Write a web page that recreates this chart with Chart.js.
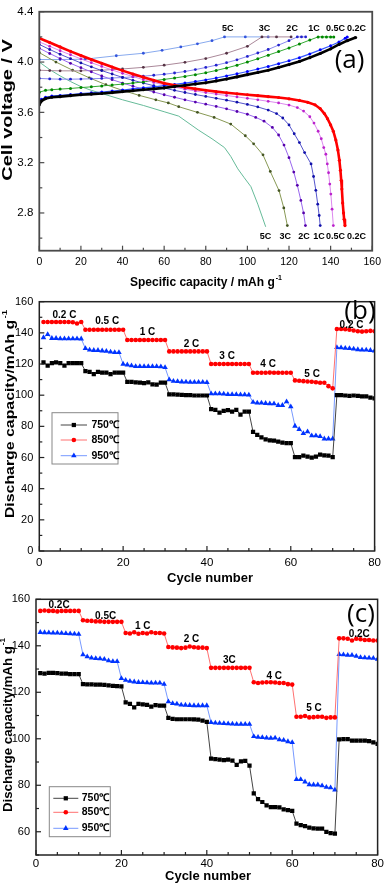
<!DOCTYPE html>
<html><head><meta charset="utf-8">
<script src="https://cdn.jsdelivr.net/npm/chart.js@4.4.0/dist/chart.umd.min.js"></script>
<style>
html,body{margin:0;padding:0;background:#fff;width:387px;height:883px;overflow:hidden;position:relative;}
canvas{position:absolute;left:0;}
</style></head><body>
<canvas id="ca" width="387" height="296" style="top:0px"></canvas>
<canvas id="cb" width="387" height="300" style="top:290px"></canvas>
<canvas id="cc" width="387" height="303" style="top:580px"></canvas>
<script>
// ---------------- Panel (a) data: [capacity mAh/g, voltage V] ----------------
const chg02C = [[0,3.66],[1,3.69],[3,3.71],[6,3.72],[10,3.725],[15,3.733],[20,3.74],[25,3.745],[30,3.75],[35,3.757],[40,3.765],[45,3.772],[50,3.78],[55,3.787],[60,3.795],[65,3.805],[70,3.815],[75,3.825],[80,3.835],[85,3.85],[90,3.865],[95,3.882],[100,3.9],[105,3.917],[110,3.935],[115,3.957],[120,3.98],[125,4.005],[130,4.035],[135,4.068],[140,4.105],[144,4.14],[148,4.17],[152,4.195]];
const dis02C = [[0,4.19],[5,4.155],[10,4.12],[15,4.085],[20,4.052],[25,4.02],[30,3.99],[35,3.96],[40,3.932],[45,3.905],[50,3.88],[55,3.855],[60,3.832],[65,3.815],[70,3.8],[75,3.787],[80,3.776],[85,3.765],[90,3.756],[95,3.748],[100,3.74],[105,3.733],[110,3.725],[115,3.718],[120,3.708],[125,3.695],[129,3.68],[132.5,3.66],[135,3.63],[137,3.59],[138.5,3.55],[140,3.5],[141.3,3.45],[142.5,3.38],[143.5,3.3],[144.2,3.22],[144.7,3.14],[145.1,3.06],[145.4,2.99],[145.8,2.88],[146.2,2.8],[146.5,2.75],[146.9,2.7]];
const chg05C = [[0,3.69],[1,3.705],[3,3.72],[6,3.73],[10,3.735],[15,3.742],[20,3.75],[25,3.755],[30,3.762],[35,3.77],[40,3.778],[45,3.786],[50,3.795],[55,3.803],[60,3.812],[65,3.822],[70,3.833],[75,3.845],[80,3.858],[85,3.873],[90,3.89],[95,3.907],[100,3.925],[105,3.945],[110,3.965],[115,3.987],[120,4.01],[125,4.035],[130,4.065],[135,4.097],[140,4.13],[144,4.16],[147,4.19],[148,4.2]];
const dis05C = [[0,4.16],[5,4.125],[10,4.09],[15,4.058],[20,4.025],[25,3.995],[30,3.965],[35,3.937],[40,3.91],[45,3.885],[50,3.86],[55,3.838],[60,3.818],[65,3.8],[70,3.784],[75,3.77],[80,3.757],[85,3.745],[90,3.734],[95,3.723],[100,3.712],[105,3.7],[110,3.688],[115,3.675],[120,3.658],[124,3.638],[127,3.61],[130,3.565],[132,3.515],[134,3.45],[135.5,3.39],[136.7,3.32],[137.7,3.267],[138.4,3.19],[139,3.12],[139.6,3.03],[140.1,2.95],[140.7,2.83],[141.3,2.7]];
const chg1C = [[0,3.76],[3,3.775],[6,3.78],[10,3.785],[15,3.79],[20,3.797],[25,3.803],[30,3.81],[35,3.817],[40,3.825],[45,3.833],[50,3.842],[55,3.852],[60,3.862],[65,3.873],[70,3.886],[75,3.9],[80,3.915],[85,3.933],[90,3.953],[95,3.975],[100,4.0],[105,4.026],[110,4.055],[115,4.083],[120,4.112],[125,4.143],[130,4.175],[134,4.2],[136,4.2],[138,4.2],[140,4.2],[141.5,4.2]];
const dis1C = [[0,4.14],[5,4.1],[10,4.062],[15,4.027],[20,3.993],[25,3.962],[30,3.932],[35,3.905],[40,3.878],[45,3.855],[50,3.833],[55,3.812],[60,3.793],[65,3.775],[70,3.758],[75,3.742],[80,3.727],[85,3.712],[90,3.697],[95,3.681],[100,3.663],[105,3.643],[110,3.618],[114,3.59],[117,3.555],[120,3.5],[122.5,3.43],[125,3.36],[127.5,3.28],[130.6,3.19],[131.8,3.09],[132.9,2.98],[133.8,2.87],[134.5,2.78],[135,2.7]];
const chg2C = [[0,3.87],[5,3.866],[10,3.864],[15,3.864],[20,3.865],[25,3.867],[30,3.87],[35,3.873],[40,3.877],[45,3.882],[50,3.888],[55,3.895],[60,3.903],[65,3.913],[70,3.925],[75,3.94],[80,3.957],[85,3.975],[90,3.995],[95,4.018],[100,4.045],[105,4.072],[110,4.1],[115,4.135],[120,4.17],[124,4.2],[126,4.2],[128,4.2]];
const dis2C = [[0,4.11],[5,4.068],[10,4.028],[15,3.99],[20,3.955],[25,3.922],[30,3.89],[35,3.86],[40,3.833],[45,3.808],[50,3.785],[55,3.762],[60,3.74],[65,3.72],[70,3.7],[75,3.682],[80,3.665],[85,3.647],[90,3.628],[95,3.607],[100,3.585],[104,3.56],[108,3.53],[112,3.48],[115,3.42],[117.6,3.34],[120,3.24],[122.3,3.125],[124,3.02],[125.7,2.9],[127,2.8],[127.9,2.7]];
const chg3C = [[0,3.935],[5,3.932],[10,3.93],[20,3.93],[30,3.935],[40,3.945],[50,3.958],[60,3.975],[70,3.998],[80,4.028],[90,4.07],[100,4.125],[107,4.2],[114,4.2],[121,4.2]];
const dis3C = [[0,4.075],[8,4.0],[16,3.935],[24,3.875],[32,3.82],[40,3.775],[48,3.735],[56,3.7],[62,3.675],[67,3.645],[76,3.6],[84,3.56],[92,3.507],[99,3.414],[103,3.35],[107.5,3.262],[111,3.13],[115.2,2.978],[117.5,2.84],[119.2,2.7]];
const chg5C = [[0,4.02],[10,4.02],[22,4.023],[37,4.05],[50,4.07],[59,4.093],[68,4.12],[76,4.145],[83,4.17],[89,4.2],[99,4.2],[110,4.2]];
const dis5C = [[0,4.0],[5,3.94],[10,3.89],[15,3.845],[20,3.805],[25,3.775],[30,3.75],[40,3.7],[50,3.655],[60,3.605],[67,3.57],[76.4,3.46],[83,3.39],[89,3.32],[92,3.25],[95.4,3.151],[98.5,3.08],[101.7,3.009],[105,2.87],[108.8,2.69]];
const rateNamesA = ['5C','3C','2C','1C','0.5C','0.2C'];
const capTicksA = [0,10,20,30,40,50,60,70,80,90,100,110,120,130,140,150,160];
const capLabeledA = [0,20,40,60,80,100,120,140,160];
const voltTicksA = [2.6,2.8,3.0,3.2,3.4,3.6,3.8,4.0,4.2,4.4];
const voltLabeledA = [2.8,3.2,3.6,4.0,4.4];

// ---------------- Panels (b) and (c) data ----------------
const cycles = [1,2,3,4,5,6,7,8,9,10,11,12,13,14,15,16,17,18,19,20,21,22,23,24,25,26,27,28,29,30,31,32,33,34,35,36,37,38,39,40,41,42,43,44,45,46,47,48,49,50,51,52,53,54,55,56,57,58,59,60,61,62,63,64,65,66,67,68,69,70,71,72,73,74,75,76,77,78,79,80];
const seriesNames = ['750℃','850℃','950℃'];
const b750 = [121,119,120.5,121,120.5,119,120.5,120.5,120.5,120.5, 115.5,115,113.5,115,114.5,114.5,113.5,114.5,114.5,114.5, 108.5,108.5,108.3,108,107.8,108.3,107,106.8,108,108, 100.5,100.5,100.3,100.2,100,100,99.8,99.8,99.8,99.8, 91,90.5,88.8,90,90.4,89.4,90.5,87.5,89.4,89.4, 76.5,74.5,73,71.7,71,70.8,70.2,69.6,69.2,69.2, 60.2,60.2,61.2,60.6,60,60.5,61.8,61.4,61.2,60.2, 100,100,99.8,99.5,99.8,99.5,99.3,99.3,98.5,98];
const b850 = [147,147,147,147,147,147,147,146.8,146,147, 142,142,142,142,142,142,142,142,142,142, 135.4,135.4,135.4,135.4,135.4,135.4,135.4,135.4,135.4,135.4, 128.1,128.1,128.1,128.1,128.1,128.1,128.1,128.1,128.1,128.1, 120,120,120,120,120,120,120,120,120,120, 114.4,114.4,114.4,114.4,114.5,114.4,114.4,114.4,114.4,114.4, 109.5,109.3,109,108.8,108.6,108.3,108,108,105.8,104.4, 142.5,142.5,142.3,142,141.5,141,140.8,141,141.3,141];
const b950 = [137,139,136.5,136.5,136.3,136.3,136.3,136.3,136.3,136.2, 130,129,128.8,128.8,128.5,128.3,127.8,127.5,127.5,120, 119.5,119,118.5,118.5,118.5,118.5,118.4,118.4,118.3,117.8, 110,109,108.8,108.6,108.5,108.4,108.4,108.3,108.3,108.2, 101,101,101,100.8,100.5,100.5,100.5,100.3,100.3,100.2, 95.5,95,95,94.8,94.5,94.5,93.5,93.5,95.8,92.6, 80.2,78.1,75.5,76.6,74,74,73.5,72,72,72, 130.7,130.5,130.2,130,129.7,129.3,129,129,128.8,128.5];
const c750 = [128.2,128,128.3,128.3,128.2,128,128,127.8,127.8,127.8, 123.5,123.4,123.4,123.3,123.3,123.2,123,122.8,122.6,122.5, 115.7,115,113.5,115,114.8,114.6,113.8,114.5,114.3,114.3, 109,108.6,108.4,108.4,108.4,108.4,108.3,108.2,107.8,107.3, 91.5,91.2,91,90.8,91,90.6,88.8,90.3,90.5,88.5, 76.5,74,72.8,71.4,70.6,70.6,70.5,69.6,69.3,69, 63.5,62.8,62.4,61.8,61.5,61.3,61.3,60,59.4,59.2, 99.7,99.8,99.8,99.2,99.2,99.2,99.2,99,98.5,97.8];
const c850 = [155,155.2,155,155,154.8,155,155,155,155,155, 151,150.8,150.7,150.5,150.5,150.3,150.3,150.3,150.3,150.3, 145.5,145.3,145.8,145.2,145.5,145.3,145.8,145.5,145.5,145.3, 139.5,139.3,139.2,139,139.2,139.7,139.4,139.2,139.2,139, 130.5,130.5,130.5,130.5,130.5,130.5,130.5,130.5,130.5,130.5, 124.3,124,124.2,124.3,124.3,124.2,124,124,123.5,123.3, 109.5,109.5,109.8,109.2,109.3,109.5,109.5,109,109.2,109.2, 143.2,143.2,143,142.3,143,142.8,142.5,142.5,142.3,142.3];
const c950 = [145.8,145.7,145.6,145.5,145.5,145.4,145.3,145.2,145.1,145, 136.2,135.3,134.8,134.6,134.5,134.2,133.6,133.3,133.3,126, 125.2,124.8,124.5,124.3,124.2,124.1,124,124,124,123.5, 116,115.2,115,114.6,114.5,114.4,114.3,114.3,114.3,114.3, 107,106.8,106.7,106.6,106.5,106.4,106.3,106.3,106.3,106.3, 101,100.7,100.6,100.4,100.3,100.4,99.6,99.4,98.8,98.4, 82.5,82.5,81.5,80.3,80.2,80.2,79.8,79.2,79,78, 136.3,136.2,136,136,135.5,135,134.9,134.8,134.7,134.3];
const rateNamesB = ['0.2 C','0.5 C','1 C','2 C','3 C','4 C','5 C','0.2 C'];
const rateNamesC = ['0.2C','0.5C','1 C','2 C','3C','4 C','5 C','0.2C'];
const cycTicks = [0,5,10,15,20,25,30,35,40,45,50,55,60,65,70,75,80];
const cycLabeled = [0,20,40,60,80];
const dcTicksB = [0,10,20,30,40,50,60,70,80,90,100,110,120,130,140,150,160];
const dcLabeledB = [0,20,40,60,80,100,120,140,160];
const dcTicksC = [50,60,70,80,90,100,110,120,130,140,150,160];
const dcLabeledC = [60,80,100,120,140,160];

// ---------------- drawing helpers ----------------
const SANS = '"Liberation Sans", Arial, Helvetica, sans-serif';
function marker(ctx, style, x, y, r, color) {
  ctx.fillStyle = color;
  ctx.beginPath();
  if (style === 'rect') { const s = r * Math.SQRT1_2; ctx.rect(x - s, y - s, 2 * s, 2 * s); }
  else if (style === 'triangle') {
    let rad = 0; ctx.moveTo(x + Math.sin(rad) * r, y - Math.cos(rad) * r);
    rad += 2 * Math.PI / 3; ctx.lineTo(x + Math.sin(rad) * r, y - Math.cos(rad) * r);
    rad += 2 * Math.PI / 3; ctx.lineTo(x + Math.sin(rad) * r, y - Math.cos(rad) * r);
    ctx.closePath();
  } else ctx.arc(x, y, r, 0, Math.PI * 2);
  ctx.fill();
}
function richText(ctx, main, sup, cx, cy, size, rot, sx) {
  ctx.save();
  ctx.translate(cx, cy); ctx.rotate(rot); ctx.scale(sx, 1);
  ctx.fillStyle = '#000'; ctx.textBaseline = 'middle'; ctx.textAlign = 'left';
  const f1 = 'bold ' + size + 'px ' + SANS;
  const f2 = 'bold ' + Math.round(size * 0.6) + 'px ' + SANS;
  ctx.font = f1; const w1 = ctx.measureText(main).width;
  ctx.font = f2; const w2 = sup ? ctx.measureText(sup).width + 1 : 0;
  const x0 = -(w1 + w2) / 2;
  ctx.font = f1; ctx.fillText(main, x0, 0);
  if (sup) { ctx.font = f2; ctx.fillText(sup, x0 + w1 + 1, -size * 0.42); }
  ctx.restore();
}
function isIn(list, v) { return list.some(l => Math.abs(l - v) < 1e-6); }

// per-canvas decoration config (layout only)
const deco = {
  ca: {
    frame: '#4a4a4a', frameW: 1.8,
    titles: [
      {main: 'Cell voltage / V', sup: '', x: 8, y: 110, size: 14, rot: -Math.PI / 2, sx: 1.42},
      {main: 'Specific capacity / mAh g', sup: '-1', x: 206, y: 283, size: 12, rot: 0, sx: 1}
    ],
    notes: [
      ...rateNamesA.map((t, i) => ({text: t, x: [90.6,108.2,121.5,132,142.4,152.4][i], y: 4.263, font: 'bold 9px ' + SANS})),
      ...rateNamesA.map((t, i) => ({text: t, x: [108.7,118.2,127.2,134.4,142.4,152.4][i], y: 2.614, font: 'bold 9px ' + SANS})),
      {text: '(a)', x: 149.1, y: 4.015, font: '26px "Open Sans", "Noto Sans", sans-serif'}
    ],
    legend: null
  },
  cb: {
    frame: '#222', frameW: 1.5,
    titles: [
      {main: 'Discharge capacity/mAh g', sup: '-1', x: 10.5, y: 124, size: 13, rot: -Math.PI / 2, sx: 1.22},
      {main: 'Cycle number', sup: '', x: 210, y: 288, size: 13, rot: 0, sx: 1}
    ],
    notes: [
      ...rateNamesB.map((t, i) => ({text: t, x: [6,16.2,25.8,36.3,44.8,54.6,65.1,74.5][i], y: [151.4,147.2,140.1,132.8,125.3,120,113.6,145][i], font: 'bold 10px ' + SANS})),
      {text: '(b)', x: 76.5, y: 153.6, font: '26px "Open Sans", "Noto Sans", sans-serif'}
    ],
    legend: {dx: 12.7, dy: 111, w: 66, h: 51.3, rows: [12.3, 27.3, 43], x1: 8.7, x2: 35, tx: 39.4}
  },
  cc: {
    frame: '#222', frameW: 1.5,
    titles: [
      {main: 'Discharge capacity/mAh g', sup: '-1', x: 8, y: 145, size: 13, rot: -Math.PI / 2, sx: 1.02},
      {main: 'Cycle number', sup: '', x: 208, y: 296, size: 13, rot: 0, sx: 1}
    ],
    notes: [
      ...rateNamesC.map((t, i) => ({text: t, x: [5.4,16.3,25,36.4,45.3,55.8,65.1,75.7][i], y: [157.6,152.8,148.2,142.8,133.9,127.1,113.1,145.1][i], font: 'bold 10px ' + SANS})),
      {text: '(c)', x: 76.1, y: 153.3, font: '26px "Open Sans", "Noto Sans", sans-serif'}
    ],
    legend: {dx: 13.3, dy: 187.4, w: 61, h: 50, rows: [11.6, 25.6, 41.6], x1: 4, x2: 29, tx: 32.4}
  }
};

const decoPlugin = {
  id: 'deco',
  afterDraw(chart) {
    const cfg = deco[chart.canvas.id];
    const ctx = chart.ctx, a = chart.chartArea, xs = chart.scales.x, ys = chart.scales.y;
    ctx.save();
    ctx.strokeStyle = cfg.frame; ctx.lineWidth = cfg.frameW;
    ctx.strokeRect(a.left, a.top, a.right - a.left, a.bottom - a.top);
    ctx.lineWidth = 1.2;
    xs.ticks.forEach(t => {
      const p = xs.getPixelForValue(t.value), L = t.label !== '' ? 5 : 3;
      ctx.beginPath(); ctx.moveTo(p, a.bottom); ctx.lineTo(p, a.bottom - L); ctx.stroke();
    });
    ys.ticks.forEach(t => {
      const p = ys.getPixelForValue(t.value), L = t.label !== '' ? 5 : 3;
      ctx.beginPath(); ctx.moveTo(a.left, p); ctx.lineTo(a.left + L, p); ctx.stroke();
    });
    cfg.titles.forEach(t => richText(ctx, t.main, t.sup, t.x, t.y, t.size, t.rot, t.sx));
    ctx.fillStyle = '#000'; ctx.textAlign = 'center'; ctx.textBaseline = 'middle';
    cfg.notes.forEach(n => {
      ctx.font = n.font;
      ctx.fillText(n.text, xs.getPixelForValue(n.x), ys.getPixelForValue(n.y));
    });
    if (cfg.legend) {
      const L = cfg.legend, bx = a.left + L.dx, by = a.top + L.dy;
      ctx.fillStyle = '#fff'; ctx.fillRect(bx, by, L.w, L.h);
      ctx.strokeStyle = '#888'; ctx.lineWidth = 1; ctx.strokeRect(bx, by, L.w, L.h);
      chart.data.datasets.forEach((ds, i) => {
        const yy = by + L.rows[i];
        ctx.strokeStyle = ds.borderColor; ctx.lineWidth = 1;
        ctx.beginPath(); ctx.moveTo(bx + L.x1, yy); ctx.lineTo(bx + L.x2, yy); ctx.stroke();
        marker(ctx, ds.pointStyle, bx + (L.x1 + L.x2) / 2, yy, ds.pointRadius, ds.pointBackgroundColor);
        ctx.fillStyle = '#000'; ctx.font = 'bold 10.5px ' + SANS;
        ctx.textAlign = 'left'; ctx.textBaseline = 'middle';
        ctx.fillText(ds.label, bx + L.tx, yy);
      });
    }
    ctx.restore();
  }
};

function axis(min, max, tickVals, labeled, fmt, fontSize, pad, fitKey, fitVal) {
  return {
    type: 'linear', min: min, max: max,
    grid: {display: false, drawTicks: false}, border: {display: false},
    afterBuildTicks: s => { s.ticks = tickVals.map(v => ({value: v})); },
    afterFit: s => { s[fitKey] = fitVal; },
    ticks: {autoSkip: false, maxRotation: 0, padding: pad, color: '#000',
      font: {family: SANS, size: fontSize, lineHeight: 1},
      callback: v => isIn(labeled, v) ? fmt(v) : ''}
  };
}

// ---------------- Chart (a) ----------------
const styleA = [
  {d: chg02C, line: '#000000', pt: '#000000', w: 2.6, r: 1.6},
  {d: dis02C, line: '#ff0000', pt: '#ff0000', w: 2.6, r: 1.6},
  {d: chg05C, line: '#3355ff', pt: '#0000ff', w: 1.2, r: 1.5},
  {d: dis05C, line: '#dd88ee', pt: '#bb22cc', w: 1, r: 1.4},
  {d: chg1C, line: '#33aa33', pt: '#008800', w: 1, r: 1.5},
  {d: dis1C, line: '#5555cc', pt: '#1111aa', w: 1, r: 1.4},
  {d: chg2C, line: '#8888ee', pt: '#2222cc', w: 1, r: 1.4},
  {d: dis2C, line: '#9966ee', pt: '#5500aa', w: 1, r: 1.4},
  {d: chg3C, line: '#aa8899', pt: '#553344', w: 1, r: 1.4},
  {d: dis3C, line: '#889955', pt: '#445522', w: 1, r: 1.4},
  {d: chg5C, line: '#88aaee', pt: '#3355dd', w: 1, r: 1.4},
  {d: dis5C, line: '#66bb99', pt: '#66bb99', w: 1, r: 0}
];
new Chart(document.getElementById('ca'), {
  type: 'line',
  data: {datasets: styleA.map(s => ({
    data: s.d.map(p => ({x: p[0], y: p[1]})),
    borderColor: s.line, borderWidth: s.w, pointRadius: s.r, pointBorderWidth: 0,
    pointBackgroundColor: s.pt, tension: 0, fill: false
  }))},
  options: {
    responsive: false, animation: false, events: [],
    layout: {padding: {top: 5.3, right: 11, left: 0, bottom: 0}},
    plugins: {legend: {display: false}, tooltip: {enabled: false}},
    scales: {
      x: axis(0, 160, capTicksA, capLabeledA, v => String(v), 10.5, 6, 'height', 296 - 250.7),
      y: axis(2.5, 4.4, voltTicksA, voltLabeledA, v => v.toFixed(1), 11.5, 6, 'width', 39.3)
    }
  },
  plugins: [decoPlugin]
});

// ---------------- Charts (b), (c) ----------------
const styleBC = [
  {line: '#444444', pt: '#000000', ps: 'rect', r: 3},
  {line: '#ff7070', pt: '#ff0000', ps: 'circle', r: 2.3},
  {line: '#7799ff', pt: '#0033ff', ps: 'triangle', r: 3.2}
];
function rateChart(id, values, yMin, yTicks, yLabeled, yWidth, padTop, xH, xPad) {
  new Chart(document.getElementById(id), {
    type: 'line',
    data: {datasets: values.map((vals, i) => ({
      label: seriesNames[i],
      data: cycles.map((c, k) => ({x: c, y: vals[k]})),
      borderColor: styleBC[i].line, borderWidth: 1, pointStyle: styleBC[i].ps,
      pointRadius: styleBC[i].r, pointBorderWidth: 0,
      pointBackgroundColor: styleBC[i].pt, tension: 0, fill: false
    }))},
    options: {
      responsive: false, animation: false, events: [],
      layout: {padding: {top: padTop, right: 7, left: 0, bottom: 0}},
      plugins: {legend: {display: false}, tooltip: {enabled: false}},
      scales: {
        x: axis(0, 80, cycTicks, cycLabeled, v => String(v), 11.5, xPad, 'height', xH),
        y: axis(yMin, 160, yTicks, yLabeled, v => String(v), 11, 6, 'width', yWidth)
      }
    },
    plugins: [decoPlugin]
  });
}
rateChart('cb', [b750, b850, b950], 0, dcTicksB, dcLabeledB, 39.3, 11.7, 300 - 261, 6);
rateChart('cc', [c750, c850, c950], 50, dcTicksC, dcLabeledC, 36, 19.3, 303 - 275, 3);
</script>
</body></html>
